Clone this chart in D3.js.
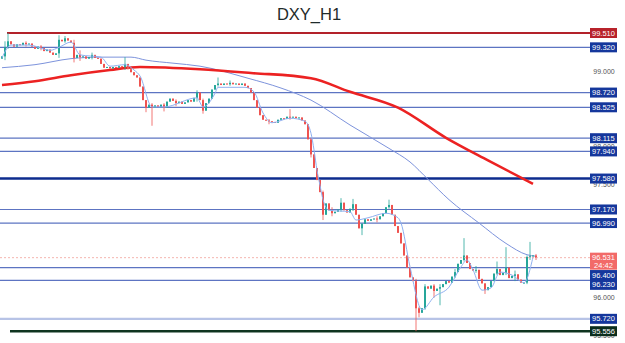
<!DOCTYPE html>
<html>
<head>
<meta charset="utf-8">
<script src="https://cdn.jsdelivr.net/npm/d3@7"></script>
<style>
  body { margin: 0; background: #fff; }
  svg { display: block; font-family: "Liberation Sans", Arial, sans-serif; }
</style>
</head>
<body>
<div id="chart"></div>
<script>
(function () {

    // Kapanış fiyatları (her mum için)
    const closes = [
        99.20, 99.32, 99.40, 99.36, 99.33, 99.36, 99.35, 99.38, 99.36, 99.37,
        99.33, 99.30, 99.33, 99.31, 99.27, 99.29, 99.25, 99.22, 99.24, 99.42,
        99.40, 99.44, 99.41, 99.38, 99.18, 99.22, 99.19, 99.20, 99.17, 99.19,
        99.22, 99.18, 99.17, 99.10, 99.05, 99.06, 99.04, 99.06, 99.05, 99.07,
        99.06, 99.10, 99.03, 98.99, 98.95, 98.92, 98.80, 98.62, 98.52, 98.56,
        98.52, 98.55, 98.53, 98.56, 98.52, 98.60, 98.64, 98.61, 98.58, 98.60,
        98.57, 98.59, 98.62, 98.60, 98.65, 98.72, 98.62, 98.48, 98.58, 98.64,
        98.76, 98.82, 98.84, 98.82, 98.84, 98.83, 98.85, 98.83, 98.84, 98.82,
        98.84, 98.81, 98.78, 98.72, 98.62, 98.52, 98.42, 98.36, 98.35, 98.34,
        98.33, 98.32, 98.36, 98.38, 98.37, 98.40, 98.39, 98.40, 98.38, 98.39,
        98.35, 98.30, 98.10, 97.90, 97.72, 97.56, 97.40, 97.10, 97.25, 97.16,
        97.12, 97.14, 97.17, 97.26, 97.16, 97.13, 97.18, 97.24, 97.10, 96.92,
        96.98, 97.04, 97.02, 97.04, 97.05, 97.04, 97.08, 97.12, 97.20, 97.23,
        97.10, 96.95, 96.86, 96.72, 96.56, 96.40, 96.27, 96.22, 95.86, 95.80,
        95.86, 96.15, 96.12, 96.16, 96.09, 96.12, 96.14, 96.18, 96.22, 96.20,
        96.28, 96.34, 96.45, 96.50, 96.56, 96.46, 96.38, 96.36, 96.37, 96.25,
        96.19, 96.10, 96.14, 96.22, 96.32, 96.38, 96.30, 96.33, 96.40, 96.26,
        96.29, 96.31, 96.24, 96.20, 96.20, 96.54, 96.55, 96.56, 96.531
    ];
    const firstOpen = 99.17;

    // Belirgin fitiller: [mum, yüksek, düşük]
    const wicks = [
        [1, 99.40, 99.15], [2, 99.51, 99.30], [8, 99.40, 99.33], [13, 99.35, 99.28],
        [19, 99.48, 99.18], [21, 99.47, 99.38], [24, 99.42, 99.12], [26, 99.28, 99.14],
        [30, 99.25, 99.16], [41, 99.19, 99.02], [48, 98.60, 98.46], [50, 98.58, 98.28],
        [54, 98.58, 98.47], [58, 98.63, 98.54], [65, 98.75, 98.60], [67, 98.64, 98.44],
        [72, 98.92, 98.80], [76, 98.88, 98.81], [89, 98.37, 98.30], [96, 98.50, 98.36],
        [103, 98.12, 97.86], [107, 97.42, 97.03], [110, 97.20, 97.08], [113, 97.32, 97.14],
        [117, 97.31, 97.15], [120, 96.99, 96.83], [125, 97.08, 97.00], [129, 97.30, 97.18],
        [138, 96.25, 95.556], [139, 95.88, 95.74], [141, 96.18, 95.84], [144, 96.18, 96.00],
        [146, 96.18, 95.90], [151, 96.38, 96.26], [154, 96.79, 96.48], [158, 96.42, 96.33],
        [161, 96.16, 96.05], [165, 96.48, 96.30], [168, 96.67, 96.30], [171, 96.36, 96.22],
        [175, 96.56, 96.18], [176, 96.74, 96.50], [178, 96.58, 96.50]
    ];

    // Hızlı hareketli ortalama (açık mavi)
    const fastIdx = [0, 3, 9, 16, 19, 23, 26, 33, 36, 41, 44, 46, 50, 54, 65, 67, 71, 72, 81, 84,
        87, 90, 96, 101, 103, 104, 105, 106, 107, 109, 116, 118, 122, 128, 132, 133, 136, 140,
        144, 149, 153, 155, 157, 160, 163, 166, 170, 174, 177];
    const fastMa = [99.18, 99.35, 99.35, 99.28, 99.32, 99.39, 99.22, 99.19, 99.07, 99.09, 99.02,
        98.94, 98.53, 98.53, 98.65, 98.53, 98.71, 98.79, 98.79, 98.73, 98.45, 98.32, 98.38, 98.34,
        98.18, 97.96, 97.69, 97.49, 97.30, 97.16, 97.14, 97.03, 97.06, 97.12, 97.06, 96.99, 96.41,
        95.84, 96.01, 96.14, 96.41, 96.50, 96.37, 96.10, 96.13, 96.34, 96.30, 96.20, 96.54];

    // Yavaş hareketli ortalama (ince mavi)
    const slowIdx = [0, 11, 23, 33, 43, 48, 57, 66, 82, 93, 103, 116, 129, 136, 142, 149, 159, 168, 175, 178];
    const slowMa = [99.05, 99.09, 99.17, 99.19, 99.19, 99.15, 99.11, 99.07, 98.91, 98.78, 98.62,
        98.29, 97.98, 97.80, 97.57, 97.30, 96.99, 96.72, 96.57, 96.55];

    // Uzun hareketli ortalama (kalın kırmızı)
    const longIdx = [0, 11, 23, 36, 46, 66, 83, 103, 116, 132, 148, 162, 177];
    const longMa = [98.82, 98.87, 98.95, 99.02, 99.06, 99.03, 98.98, 98.91, 98.73, 98.52, 98.12, 97.82, 97.51];

    // Yatay seviyeler
    const levels = [99.510, 99.320, 98.720, 98.525, 98.115, 97.940, 97.580, 97.170, 96.990, 96.400, 96.230, 95.720, 95.556];
    const levelKinds = ["top", "thin", "thin", "thin", "thin", "thin", "bold", "thin", "thin", "thin", "thin", "light", "bottom"];
    // görünen eksen yazıları (diğerleri etiket kutularının altında kalıyor)
    const axisTicks = [99.0, 98.0, 97.5, 96.0, 95.5];
    const lastPrice = 96.531;
    const timer = "24:42";

    const width = 625, height = 343;
    const plotRight = 590;

    const svg = d3.select('#chart')
        .append('svg')
        .attr('width', width)
        .attr('height', height);

    const x = d3.scaleLinear().domain([0, closes.length - 1]).range([2, 536]);
    const y = d3.scaleLinear().domain([95.556, 99.510]).range([331.2, 33]);

    // Başlık
    svg.append("text")
        .attr("x", 309)
        .attr("y", 19.5)
        .attr("text-anchor", "middle")
        .attr("font-size", 16.5)
        .attr("fill", "#1f2b2b")
        .text("DXY_H1");

    // Sağ eksen yazıları (kutuların altında kalır)
    svg.selectAll(".tick")
        .data(axisTicks)
        .enter().append("text")
        .attr("x", 604)
        .attr("y", d => y(d) + 2.5)
        .attr("text-anchor", "middle")
        .attr("font-size", 7)
        .attr("fill", "#555")
        .text(d => d.toFixed(3));

    const lineStyle = {
        top: { color: "#b3222a", w: 2, x0: 7 },
        thin: { color: "#5d74c2", w: 1.2, x0: 0 },
        bold: { color: "#0d2c8e", w: 2.6, x0: 0 },
        light: { color: "#b7c3e6", w: 2.4, x0: 0 },
        bottom: { color: "#0f3420", w: 2.4, x0: 10 }
    };

    levels.forEach((v, i) => {
        const s = lineStyle[levelKinds[i]];
        svg.append("line")
            .attr("x1", s.x0)
            .attr("x2", plotRight)
            .attr("y1", y(v))
            .attr("y2", y(v))
            .attr("stroke", s.color)
            .attr("stroke-width", s.w);
    });

    // Hareketli ortalamalar
    const maLine = d3.line()
        .x(d => x(d[0]))
        .y(d => y(d[1]))
        .curve(d3.curveMonotoneX);

    svg.append("path")
        .attr("d", maLine(slowIdx.map((d, i) => [d, slowMa[i]])))
        .attr("fill", "none")
        .attr("stroke", "#7d93dc")
        .attr("stroke-width", 1);

    svg.append("path")
        .attr("d", maLine(longIdx.map((d, i) => [d, longMa[i]])))
        .attr("fill", "none")
        .attr("stroke", "#ec2222")
        .attr("stroke-width", 2.6);

    // Mumlar
    const wickMap = new Map(wicks.map(w => [w[0], w]));
    const candles = closes.map((c, i) => {
        const o = i === 0 ? firstOpen : closes[i - 1];
        const w = wickMap.get(i);
        const hi = w ? Math.max(w[1], o, c) : Math.max(o, c);
        const lo = w ? Math.min(w[2], o, c) : Math.min(o, c);
        return { i, o, c, hi, lo };
    });

    const g = svg.append("g");
    g.selectAll(".wick")
        .data(candles)
        .enter().append("line")
        .attr("x1", d => x(d.i))
        .attr("x2", d => x(d.i))
        .attr("y1", d => y(d.hi))
        .attr("y2", d => y(d.lo))
        .attr("stroke", d => d.c >= d.o ? "#26a69a" : "#ef5350")
        .attr("stroke-width", 0.8);

    g.selectAll(".body")
        .data(candles)
        .enter().append("rect")
        .attr("x", d => x(d.i) - 1)
        .attr("width", 2)
        .attr("y", d => y(Math.max(d.o, d.c)))
        .attr("height", d => Math.max(1, Math.abs(y(d.o) - y(d.c))))
        .attr("fill", d => d.c >= d.o ? "#26a69a" : "#ef5350");

    svg.append("path")
        .attr("d", maLine(fastIdx.map((d, i) => [d, fastMa[i]])))
        .attr("fill", "none")
        .attr("stroke", "#8fb0f0")
        .attr("stroke-width", 1);

    // Son fiyat çizgisi
    svg.append("line")
        .attr("x1", 0)
        .attr("x2", plotRight)
        .attr("y1", y(lastPrice))
        .attr("y2", y(lastPrice))
        .attr("stroke", "#f2a39c")
        .attr("stroke-width", 0.8)
        .attr("stroke-dasharray", "2,2");

    // Seviye etiketleri
    const boxColor = { top: "#b8232b", thin: "#15379c", bold: "#15379c", light: "#15379c", bottom: "#0c2e1d" };
    // üst üste binen etiketlerin kaydırılması
    const labelShift = { "96.400": 7.5, "96.230": 4.5 };

    levels.forEach((v, i) => {
        const key = v.toFixed(3);
        const cy = y(v) + (labelShift[key] || 0);
        svg.append("rect")
            .attr("x", 590)
            .attr("y", cy - 5)
            .attr("width", 27)
            .attr("height", 10)
            .attr("fill", boxColor[levelKinds[i]]);
        svg.append("text")
            .attr("x", 603.5)
            .attr("y", cy + 2.6)
            .attr("text-anchor", "middle")
            .attr("font-size", 7.5)
            .attr("fill", "#fff")
            .text(key);
    });

    // Son fiyat etiketi
    const ly = y(lastPrice);
    svg.append("rect")
        .attr("x", 590)
        .attr("y", ly - 5)
        .attr("width", 27)
        .attr("height", 17)
        .attr("fill", "#f26a68");
    svg.append("text")
        .attr("x", 603.5)
        .attr("y", ly + 2.6)
        .attr("text-anchor", "middle")
        .attr("font-size", 7.5)
        .attr("fill", "#fff")
        .text(lastPrice.toFixed(3));
    svg.append("text")
        .attr("x", 603.5)
        .attr("y", ly + 10.4)
        .attr("text-anchor", "middle")
        .attr("font-size", 7.5)
        .attr("fill", "#fff")
        .text(timer);
})();
</script>
</body>
</html>
